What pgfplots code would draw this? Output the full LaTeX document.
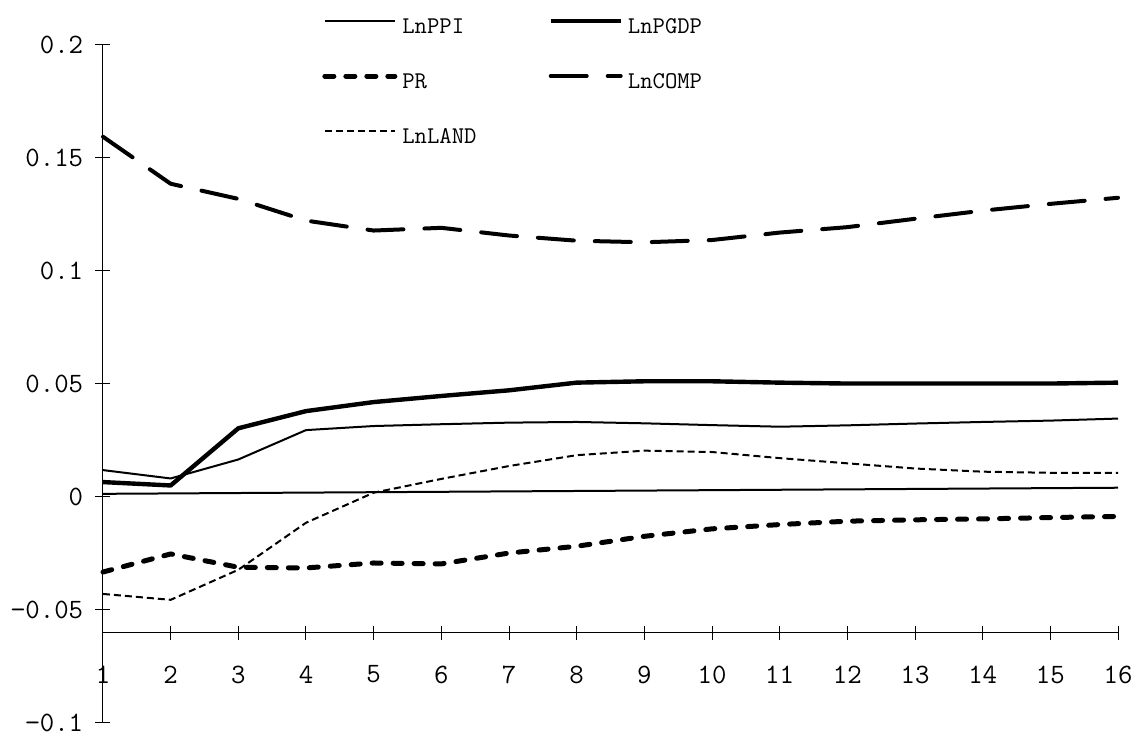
\documentclass[border=0pt]{standalone}
\usepackage{fontspec}
\usepackage{pgfplots}
\pgfplotsset{compat=1.18}
\newcommand{\lblfont}{\ttfamily\fontsize{14}{16}\selectfont}
\newcommand{\legfont}{\ttfamily\fontsize{12}{14}\selectfont}
\begin{document}
\begin{tikzpicture}
\begin{axis}[
  scale only axis, width=507.5pt, height=339pt,
  xmin=1, xmax=16, ymin=-0.1, ymax=0.2,
  axis x line=none, axis y line*=left,
  ytick={-0.1,-0.05,0,0.05,0.1,0.15,0.2},
  yticklabels={−0.1,−0.05,0,0.05,0.1,0.15,0.2},
  tick align=center, major tick length=7.5pt,
  tick style={line width=0.5pt, black},
  axis line style={line width=0.5pt, black},
  yticklabel style={font=\lblfont, anchor=east, inner sep=0pt, xshift=-6pt},
  clip=false,
  legend columns=2,
  legend cell align=left,
  legend style={at={(axis cs:4.236,0.2119)}, anchor=north west, draw=none, fill=none,
    inner sep=0pt, font=\legfont, row sep=20pt,
    nodes={inner sep=0pt, text height=7.5pt, text depth=0pt},
    /tikz/every odd column/.append style={column sep=2.5pt},
    /tikz/every even column/.append style={column sep=36pt}},
  legend image code/.code={\draw[#1] (0pt,2.5pt) -- (35pt,2.5pt);},
]
% near-zero reference line
\addplot[black, line width=1pt, forget plot] coordinates {(1,0.0014) (16,0.0041)};
\addplot[black, line width=1pt, line join=round] coordinates {
 (1,0.0119) (2,0.0082) (3,0.0166) (4,0.0296) (5,0.0314) (6,0.0322) (7,0.0329) (8,0.0332)
 (9,0.0326) (10,0.0318) (11,0.0311) (12,0.0317) (13,0.0325) (14,0.0332) (15,0.0338) (16,0.0347)};
\addlegendentry{LnPPI}
\addplot[black, line width=2.2pt, line join=round] coordinates {
 (1,0.0066) (2,0.0051) (3,0.0304) (4,0.0380) (5,0.0420) (6,0.0447) (7,0.0472) (8,0.0506)
 (9,0.0512) (10,0.0512) (11,0.0506) (12,0.0502) (13,0.0502) (14,0.0502) (15,0.0502) (16,0.0506)};
\addlegendentry{LnPGDP}
\addplot[black, line width=2.5pt, line cap=round, line join=round, dash pattern=on 4.5pt off 6pt] coordinates {
 (1,-0.0332) (2,-0.0252) (3,-0.0311) (4,-0.0314) (5,-0.0292) (6,-0.0296) (7,-0.0248) (8,-0.0218)
 (9,-0.0174) (10,-0.0141) (11,-0.0122) (12,-0.0107) (13,-0.0101) (14,-0.0097) (15,-0.0091) (16,-0.0086)};
\addlegendentry{PR}
\addplot[black, line width=2pt, line cap=round, line join=round, dash pattern=on 18pt off 10.5pt] coordinates {
 (1,0.1594) (2,0.1386) (3,0.1319) (4,0.1223) (5,0.1179) (6,0.1191) (7,0.1157) (8,0.1134)
 (9,0.1127) (10,0.1137) (11,0.1170) (12,0.1194) (13,0.1231) (14,0.1267) (15,0.1297) (16,0.1324)};
\addlegendentry{LnCOMP}
\addplot[black, line width=1pt, dash pattern=on 3.5pt off 2pt] coordinates {
 (1,-0.0429) (2,-0.0455) (3,-0.0322) (4,-0.0114) (5,0.0019) (6,0.0080) (7,0.0137) (8,0.0185)
 (9,0.0205) (10,0.0199) (11,0.0172) (12,0.0149) (13,0.0126) (14,0.0112) (15,0.0107) (16,0.0107)};
\addlegendentry{LnLAND}
% x axis at y = -0.06
\draw[line width=0.5pt] (axis cs:1,-0.06) -- (axis cs:16,-0.06);
\pgfplotsinvokeforeach{1,...,16}{
  \draw[line width=0.5pt] (axis cs:#1,-0.06) ++(0pt,-3.5pt) -- ++(0pt,7pt);
  \node[font=\lblfont, inner sep=0pt] at (axis cs:#1,-0.06) [yshift=-21pt] {#1};
}
\path (axis cs:1,-0.1) ++(-51.5pt,-7.5pt) coordinate (bl);
\path (axis cs:16,0.2) ++(14.5pt,22.5pt) coordinate (tr);
\end{axis}
\pgfresetboundingbox
\useasboundingbox (bl) rectangle (tr);
\end{tikzpicture}
\end{document}
